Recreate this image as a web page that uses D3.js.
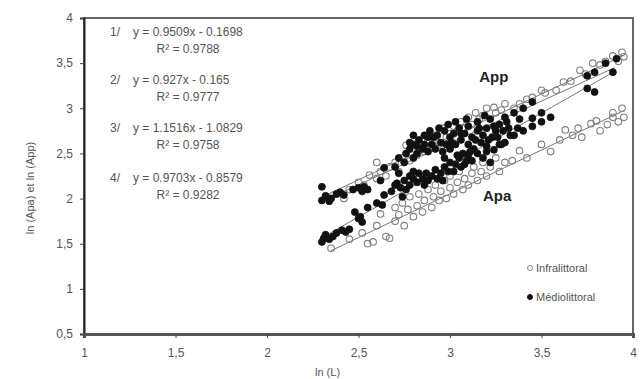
<!DOCTYPE html>
<html>
<head>
<meta charset="utf-8">
<script src="https://cdn.jsdelivr.net/npm/d3@7"></script>
<style>
  body { margin: 0; background: #fff; }
  svg { font-family: "Liberation Sans", Arial, sans-serif; }
</style>
</head>
<body>
<svg id="chart" width="641" height="379"></svg>
<script>
// ticks
const xTicks = [1, 1.5, 2, 2.5, 3, 3.5, 4];
const yTicks = [0.5, 1, 1.5, 2, 2.5, 3, 3.5, 4];

// regression equations: [label, slope, intercept, r2, xmin, xmax]
const fits = [
  ['1/', 0.9509, -0.1698, '0.9788', 2.3, 3.95],
  ['2/', 0.927, -0.165, '0.9777', 2.3, 3.9],
  ['3/', 1.1516, -1.0829, '0.9758', 2.3, 3.9],
  ['4/', 0.9703, -0.8579, '0.9282', 2.35, 3.95]
];

// infralittoral App (open)
const infraApp = [[2.33,2.02],[2.38,2.05],[2.42,2.0],[2.45,2.1],[2.5,2.18],[2.53,2.15],[2.56,2.26],[2.6,2.22],[2.6,2.4],[2.62,2.3],
  [2.65,2.25],[2.67,2.35],[2.7,2.4],[2.72,2.3],[2.74,2.45],[2.76,2.59],[2.78,2.42],[2.8,2.55],[2.82,2.48],[2.84,2.6],
  [2.86,2.52],[2.88,2.65],[2.9,2.58],[2.92,2.7],[2.94,2.62],[2.96,2.78],[2.98,2.68],[3.0,2.72],[3.02,2.8],[3.04,2.75],
  [3.06,2.85],[3.08,2.78],[3.1,2.9],[3.12,2.82],[3.14,2.95],[3.16,2.88],[3.18,2.92],[3.2,3.0],[3.24,3.01],[3.25,2.95],
  [3.28,2.98],[3.3,3.05],[3.35,3.0],[3.38,3.05],[3.42,3.1],[3.45,3.12],[3.5,3.2],[3.52,3.17],[3.58,3.2],[3.62,3.29],
  [3.66,3.3],[3.71,3.42],[3.74,3.38],[3.78,3.5],[3.82,3.48],[3.85,3.52],[3.89,3.58],[3.92,3.52],[3.94,3.62],[3.95,3.57]];

// médiolittoral App (filled)
const medioApp = [[2.3,2.13],[2.3,1.98],[2.32,2.03],[2.34,1.97],[2.35,2.0],[2.38,2.05],[2.4,2.07],[2.42,2.04],[2.47,2.1],[2.5,2.12],
  [2.52,2.08],[2.53,2.13],[2.55,2.1],[2.62,2.2],[2.64,2.34],[2.7,2.35],[2.72,2.45],[2.75,2.4],[2.76,2.5],[2.78,2.55],
  [2.78,2.62],[2.8,2.45],[2.8,2.6],[2.8,2.7],[2.82,2.5],[2.82,2.58],[2.83,2.65],[2.85,2.55],[2.86,2.6],[2.86,2.7],
  [2.88,2.52],[2.88,2.68],[2.89,2.75],[2.9,2.6],[2.91,2.68],[2.92,2.55],[2.93,2.7],[2.94,2.78],[2.95,2.62],[2.96,2.52],
  [2.97,2.75],[2.97,2.45],[2.98,2.6],[2.99,2.82],[3.0,2.68],[3.0,2.55],[3.01,2.62],[3.02,2.72],[3.03,2.6],[3.03,2.85],
  [3.04,2.48],[3.05,2.78],[3.06,2.65],[3.06,2.72],[3.07,2.5],[3.08,2.72],[3.09,2.88],[3.1,2.8],[3.1,2.6],[3.11,2.52],
  [3.12,2.68],[3.13,2.55],[3.14,2.65],[3.15,2.75],[3.15,2.85],[3.16,2.78],[3.17,2.62],[3.18,2.7],[3.19,2.92],[3.2,2.78],
  [3.2,2.58],[3.21,2.65],[3.22,2.88],[3.23,2.68],[3.24,2.8],[3.25,2.75],[3.26,2.68],[3.27,2.82],[3.28,2.6],[3.29,2.75],
  [3.3,2.9],[3.31,2.85],[3.32,2.78],[3.33,2.7],[3.35,2.95],[3.37,2.78],[3.38,2.88],[3.4,3.0],[3.45,3.07],[3.45,2.89],
  [3.5,2.95],[3.75,3.36],[3.79,3.4],[3.89,3.4],[3.91,3.55],[3.85,3.5]];

// médiolittoral Apa (filled)
const medioApa = [[2.3,1.52],[2.31,1.56],[2.32,1.6],[2.34,1.55],[2.36,1.58],[2.38,1.62],[2.41,1.65],[2.43,1.63],[2.45,1.66],[2.48,1.85],
  [2.5,1.78],[2.51,1.8],[2.52,1.74],[2.55,1.9],[2.6,1.95],[2.63,1.93],[2.64,2.04],[2.68,2.08],[2.7,2.15],[2.71,2.17],
  [2.72,2.28],[2.73,2.12],[2.74,2.02],[2.75,2.2],[2.76,2.1],[2.78,2.25],[2.78,2.15],[2.8,2.3],[2.8,2.22],[2.82,2.18],
  [2.83,2.28],[2.85,2.22],[2.86,2.15],[2.87,2.28],[2.88,2.2],[2.9,2.25],[2.92,2.32],[2.93,2.22],[2.95,2.28],[2.96,2.2],
  [2.97,2.35],[2.99,2.3],[3.0,2.4],[3.02,2.3],[3.03,2.38],[3.05,2.45],[3.06,2.35],[3.08,2.38],[3.09,2.42],[3.1,2.48],
  [3.12,2.42],[3.15,2.5],[3.18,2.45],[3.2,2.52],[3.22,2.4],[3.24,2.54],[3.27,2.6],[3.3,2.62],[3.35,2.7],[3.4,2.75],
  [3.45,2.8],[3.5,2.85],[3.55,2.9],[3.75,3.22],[3.79,3.18]];

// infralittoral Apa (open)
const infraApa = [[2.35,1.45],[2.45,1.55],[2.52,1.62],[2.55,1.5],[2.58,1.52],[2.6,1.7],[2.62,1.83],[2.65,1.58],[2.67,1.56],[2.7,1.75],
  [2.7,1.9],[2.72,1.82],[2.74,1.95],[2.75,1.7],[2.77,1.88],[2.78,2.02],[2.8,1.8],[2.82,1.92],[2.83,2.05],[2.85,1.85],
  [2.86,1.98],[2.88,2.1],[2.9,1.9],[2.91,2.02],[2.92,2.15],[2.94,1.98],[2.95,2.08],[2.97,2.2],[2.98,2.0],[3.0,2.12],
  [3.0,2.25],[3.02,2.05],[3.04,2.18],[3.05,2.3],[3.07,2.1],[3.08,2.22],[3.1,2.15],[3.12,2.28],[3.13,2.35],[3.15,2.2],
  [3.17,2.3],[3.18,2.4],[3.2,2.25],[3.22,2.35],[3.25,2.45],[3.27,2.3],[3.3,2.4],[3.34,2.42],[3.38,2.53],[3.42,2.45],
  [3.5,2.6],[3.55,2.52],[3.6,2.65],[3.63,2.76],[3.67,2.7],[3.7,2.78],[3.72,2.68],[3.77,2.83],[3.8,2.86],[3.82,2.75],
  [3.86,2.82],[3.89,2.9],[3.89,2.95],[3.92,2.85],[3.94,3.0],[3.95,2.9]];

const fmt = d => String(d).replace('.', ',');

const svg = d3.select('#chart');
const margin = { top: 18, right: 8, bottom: 45, left: 84 };
const width = 633 - margin.left, height = 334 - margin.top;

const x = d3.scaleLinear().domain([1, 4]).range([0, width]);
const y = d3.scaleLinear().domain([0.5, 4]).range([height, 0]);

const g = svg.append('g').attr('transform', 'translate(' + margin.left + ',' + margin.top + ')');

// plot frame
g.append('rect').attr('x', 0).attr('y', 0).attr('width', width).attr('height', height)
  .attr('fill', 'none').attr('stroke', '#666').attr('stroke-width', 2);

const yAxis = g.append('g').call(d3.axisLeft(y).tickValues(yTicks).tickFormat(fmt).tickSize(4));
const xAxis = g.append('g').attr('transform', 'translate(0,' + height + ')')
  .call(d3.axisBottom(x).tickValues(xTicks).tickFormat(fmt).tickSize(4));
yAxis.select('.domain').attr('stroke', '#222').attr('stroke-width', 2);
xAxis.select('.domain').attr('stroke', '#555').attr('stroke-width', 3);
[xAxis, yAxis].forEach(a => {
  a.selectAll('text').attr('fill', '#555').style('font-size', '12px')
    .style('font-family', '"Liberation Sans", Arial, sans-serif');
  a.selectAll('.tick line').attr('stroke', '#444');
});
xAxis.selectAll('text').attr('dy', '1.35em');
yAxis.selectAll('text').attr('dx', '-4px');

// regression lines
g.selectAll('.fit').data(fits).enter().append('line')
  .attr('x1', d => x(d[4])).attr('y1', d => y(d[1] * d[4] + d[2]))
  .attr('x2', d => x(d[5])).attr('y2', d => y(d[1] * d[5] + d[2]))
  .attr('stroke', '#777').attr('stroke-width', 1);

function dots(data, filled) {
  g.append('g').selectAll('circle').data(data).enter().append('circle')
    .attr('cx', d => x(d[0])).attr('cy', d => y(d[1])).attr('r', filled ? 3.5 : 3.3)
    .attr('fill', filled ? '#111' : 'none')
    .attr('stroke', filled ? '#111' : '#808080').attr('stroke-width', filled ? 0.8 : 1.1);
}
dots(infraApa, false);
dots(infraApp, false);
dots(medioApa, true);
dots(medioApp, true);

// group labels
g.append('text').attr('x', x(3.16)).attr('y', y(3.29)).text('App')
  .attr('font-weight', 'bold').attr('font-size', 15).attr('fill', '#222');
g.append('text').attr('x', x(3.18)).attr('y', y(1.97)).text('Apa')
  .attr('font-weight', 'bold').attr('font-size', 15).attr('fill', '#222');

// equations
const eqY = [36, 84, 132, 182];
fits.forEach((f, i) => {
  const t = svg.append('text').attr('x', 110).attr('y', eqY[i]).attr('font-size', 12).attr('fill', '#555');
  t.append('tspan').text(f[0]);
  t.append('tspan').attr('x', 133).text('y = ' + f[1] + 'x - ' + Math.abs(f[2]));
  svg.append('text').attr('x', 188).attr('y', eqY[i] + 17).attr('text-anchor', 'middle')
    .attr('font-size', 12).attr('fill', '#555').text('R² = ' + f[3]);
});

// legend
const legend = [['Infralittoral', false, 268], ['Médiolittoral', true, 297]];
legend.forEach(l => {
  svg.append('circle').attr('cx', 530).attr('cy', l[2]).attr('r', 2.5)
    .attr('fill', l[1] ? '#111' : '#fff').attr('stroke', l[1] ? '#111' : '#888');
  svg.append('text').attr('x', 536).attr('y', l[2] + 4).attr('font-size', 11).attr('fill', '#555').text(l[0]);
});

// axis titles
svg.append('text').attr('x', 315).attr('y', 376).attr('font-size', 11).attr('fill', '#555').text('ln (L)');
svg.append('text').attr('transform', 'translate(34,188) rotate(-90)').attr('text-anchor', 'middle')
  .attr('font-size', 11).attr('fill', '#555').text('ln (Apa) et ln (App)');
</script>
</body>
</html>
